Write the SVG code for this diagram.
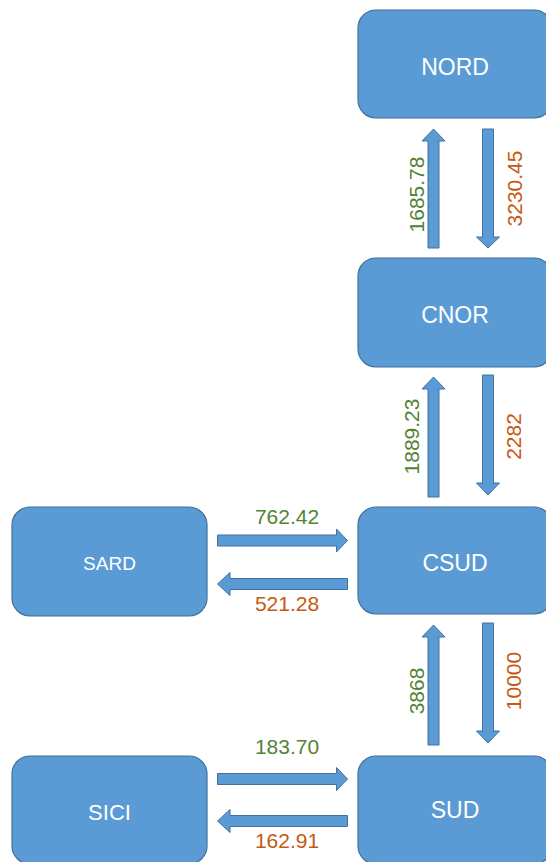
<svg xmlns="http://www.w3.org/2000/svg" width="546" height="862" viewBox="0 0 546 862">
<style>
.box{fill:#5B9BD5;stroke:#41719C;stroke-width:1.2}
.lbl{fill:#FFFFFF;font-family:"Liberation Sans",Arial,sans-serif;font-size:23px;text-anchor:middle}
.arr{fill:#5B9BD5;stroke:#41719C;stroke-width:1}
.num{font-family:"Liberation Sans",Arial,sans-serif;font-size:21px;text-anchor:middle}
.g{fill:#548235}
.o{fill:#C55A11}
</style>
<rect width="546" height="862" fill="#FFFFFF"/>
<g id="connectors">
  <polygon class="arr" points="428,248 428,141 422,141 433.5,129 445,141 439,141 439,248"/>
  <polygon class="arr" points="482.5,129 493.5,129 493.5,237 499.5,237 488,248 476.5,237 482.5,237"/>
  <polygon class="arr" points="428,497 428,389 422,389 433.5,377 445,389 439,389 439,497"/>
  <polygon class="arr" points="482.5,375 493.5,375 493.5,483 499.5,483 488,495 476.5,483 482.5,483"/>
  <polygon class="arr" points="428,745 428,637 422,637 433.5,625 445,637 439,637 439,745"/>
  <polygon class="arr" points="482.5,623 493.5,623 493.5,731 499.5,731 488,743 476.5,731 482.5,731"/>
  <polygon class="arr" points="217.5,535 336.5,535 336.5,529 347.5,540.5 336.5,552 336.5,546 217.5,546"/>
  <polygon class="arr" points="347.5,578.5 230,578.5 230,572.5 217.5,584 230,595.5 230,589.5 347.5,589.5"/>
  <polygon class="arr" points="217.5,773.5 336.5,773.5 336.5,767.5 347.5,779 336.5,790.5 336.5,784.5 217.5,784.5"/>
  <polygon class="arr" points="347.5,815.5 230,815.5 230,809.5 217.5,821 230,832.5 230,826.5 347.5,826.5"/>
  <text class="num g" transform="translate(424,194.5) rotate(-90)">1685.78</text>
  <text class="num o" transform="translate(522,188.5) rotate(-90)">3230.45</text>
  <text class="num g" transform="translate(419,436.5) rotate(-90)">1889.23</text>
  <text class="num o" transform="translate(521,436.5) rotate(-90)">2282</text>
  <text class="num g" transform="translate(424,691) rotate(-90)">3868</text>
  <text class="num o" transform="translate(521,681) rotate(-90)">10000</text>
  <text class="num g" x="287" y="524">762.42</text>
  <text class="num o" x="287" y="611">521.28</text>
  <text class="num g" x="287" y="754">183.70</text>
  <text class="num o" x="287" y="848">162.91</text>
</g>
<g id="NORD"><rect class="box" x="358" y="10" width="194" height="108" rx="18"/><text class="lbl" x="455" y="75">NORD</text></g>
<g id="CNOR"><rect class="box" x="358" y="258" width="194" height="109" rx="18"/><text class="lbl" x="455" y="323">CNOR</text></g>
<g id="CSUD"><rect class="box" x="358" y="507" width="194" height="107" rx="18"/><text class="lbl" x="455" y="571">CSUD</text></g>
<g id="SUD"><rect class="box" x="358" y="756" width="194" height="108" rx="18"/><text class="lbl" x="455" y="818">SUD</text></g>
<g id="SARD"><rect class="box" x="12" y="507" width="195" height="109" rx="18"/><text class="lbl" x="109.5" y="570" style="font-size:19px">SARD</text></g>
<g id="SICI"><rect class="box" x="12" y="756" width="195" height="108" rx="18"/><text class="lbl" x="109.5" y="820" style="font-size:22px">SICI</text></g>
</svg>
